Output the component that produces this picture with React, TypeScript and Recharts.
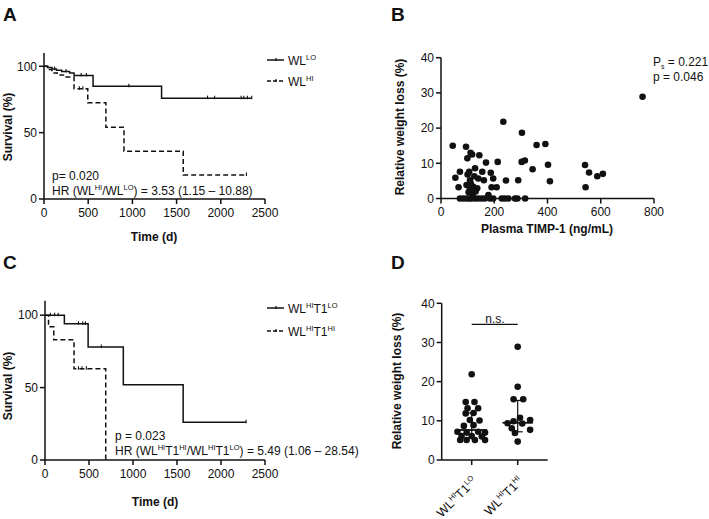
import React from "react";
import {
  LineChart,
  Line,
  XAxis,
  YAxis,
  ScatterChart,
  Scatter,
  ReferenceLine,
} from "recharts";

const FONT = '"Liberation Sans", Arial, Helvetica, sans-serif';
const INK = "#111";

// survival curves: [time (d), survival (%), censored 1/0]
const wlLo = [
  [0, 100, 0], [40, 99, 0], [90, 98, 0], [120, 98, 1], [140, 97, 0], [200, 96, 0],
  [250, 96, 1], [290, 95, 0], [340, 93, 0], [420, 93, 1], [480, 93, 1], [555, 85, 0],
  [960, 85, 1], [1330, 76, 0], [1850, 76, 1], [1930, 76, 1], [2230, 76, 1],
  [2260, 76, 1], [2300, 76, 1], [2350, 76, 1],
];
const wlHi = [
  [0, 100, 0], [40, 97.5, 0], [90, 95, 0], [150, 93.5, 0], [220, 92, 0], [340, 83, 0],
  [400, 83, 1], [440, 83, 1], [495, 72.5, 0], [700, 54, 0], [905, 36, 0], [1575, 18, 0],
  [2290, 18, 1],
];
const t1Lo = [
  [0, 100, 0], [60, 100, 1], [110, 100, 1], [150, 100, 1], [220, 94, 0], [380, 94, 1],
  [430, 94, 1], [460, 94, 1], [490, 78, 0], [640, 78, 1], [890, 52, 0], [1570, 26, 0],
  [2285, 26, 1],
];
const t1Hi = [
  [0, 100, 0], [40, 92, 0], [100, 83, 0], [330, 63, 0], [380, 63, 1], [420, 63, 1],
  [470, 63, 1], [690, 0, 0],
];
const timeTicks = [0, 500, 1000, 1500, 2000, 2500];
const survTicks = [0, 50, 100];

// panel B: plasma TIMP-1 (ng/mL) vs relative weight loss (%)
const timpWl = [
  [44, 15], [94, 14.7], [111, 13], [99, 11.4], [117, 12.5], [144, 12.3], [234, 21.8],
  [304, 18.7], [359, 15.2], [392, 15.5], [169, 10.2], [213, 10.4], [303, 10.4],
  [315, 10.8], [344, 8.3], [402, 9.6], [409, 4.9], [71, 7.6], [54, 5.9], [66, 3.2],
  [106, 7.6], [128, 8.6], [155, 7.6], [187, 7.3], [140, 5.7], [161, 5.2], [196, 5.7],
  [244, 5.1], [290, 5.2], [109, 5.2], [96, 3.8], [121, 3.3], [136, 2.9], [109, 2.5],
  [209, 3.2], [190, 3.2], [178, 1.0], [118, 1.0], [112, 4.2], [125, 6.3], [104, 1.8],
  [130, 2.0], [100, 6.8], [541, 9.5], [556, 7.4], [587, 6.3], [608, 7.0], [543, 3.2],
  [757, 28.9],
  [71, 0], [84, 0], [96, 0], [106, 0], [115, 0], [128, 0], [140, 0], [153, 0], [165, 0],
  [184, 0], [196, 0], [228, 0], [240, 0], [253, 0], [278, 0], [287, 0], [316, 0],
];
const timpTicks = [0, 200, 400, 600, 800];
const wlTicks = [0, 10, 20, 30, 40];

// panel D: weight loss per group, [group, jitter, value]
const groupPts = [
  [0, 0, 21.9], [0, -0.13, 14.8], [0, 0.06, 14.8], [0, -0.09, 13.2], [0, 0.14, 13.2],
  [0, -0.13, 11.9], [0, 0.04, 12.0], [0, -0.04, 10.2], [0, 0.17, 10.1], [0, -0.17, 8.7],
  [0, 0.04, 8.9], [0, -0.31, 7.2], [0, -0.11, 7.0], [0, 0.14, 7.2], [0, 0.29, 7.0],
  [0, -0.22, 6.1], [0, 0, 6.1], [0, 0.22, 6.0], [0, -0.25, 5.1], [0, -0.11, 5.1],
  [0, 0.07, 5.1], [0, 0.29, 5.1],
  [1, 0, 28.9], [1, 0, 18.7], [1, -0.09, 15.5], [1, 0.12, 15.5], [1, 0.05, 10.8],
  [1, -0.09, 9.9], [1, 0.27, 10.2], [1, -0.22, 9.4], [1, 0.1, 9.3], [1, -0.13, 8.1],
  [1, 0.27, 7.7], [1, -0.06, 6.9], [1, 0, 4.7],
];
const groupMedian = [7.65, 9.5];
const groupQ1 = [5.5, 7.2];
const groupQ3 = [12.0, 15.2];
const nsHeight = 34.6;

const toSurv = (rows: number[][]) => rows.map(([t, s, c]) => ({ t, s, c }));

const axisProps = {
  stroke: INK,
  strokeWidth: 1.5,
  tickSize: 5,
  tick: { fill: INK, fontSize: 12, fontFamily: FONT },
  tickLine: { stroke: INK, strokeWidth: 1.5 },
};

const censor = (props: any) => {
  const { cx, cy, payload, index } = props;
  if (!payload?.c) return <g key={`c-${index}`} />;
  return <line key={`c-${index}`} x1={cx} x2={cx} y1={cy - 2.5} y2={cy + 1} stroke={INK} strokeWidth={1.1} />;
};

const dotShape = (props: any) => <circle cx={props.cx} cy={props.cy} r={3.3} fill={INK} />;

const Sup = ({ children }: any) => (
  <span style={{ fontSize: 7.5, position: "relative", top: -5 }}>{children}</span>
);

const At = ({ x, y, anchor = "start", rotate = false, bold = false, size = 12, children }: any) => {
  const tx = anchor === "start" ? "0" : anchor === "middle" ? "-50%" : "-100%";
  return (
    <div
      style={{
        position: "absolute",
        left: x,
        top: y,
        transform: rotate ? "translate(-50%,-50%) rotate(-90deg)" : `translate(${tx},-50%)`,
        whiteSpace: "nowrap",
        lineHeight: 1,
        fontFamily: FONT,
        fontSize: size,
        fontWeight: bold ? 700 : 400,
        color: INK,
      }}
    >
      {children}
    </div>
  );
};

const Swatch = ({ dashed }: { dashed?: boolean }) => (
  <svg width={17} height={8} style={{ position: "absolute", left: -21, top: 0 }}>
    <line x1={0} x2={17} y1={4} y2={4} stroke={INK} strokeWidth={1.5} strokeDasharray={dashed ? "4 2" : undefined} />
    <line x1={9} x2={9} y1={2} y2={5} stroke={INK} strokeWidth={1.2} />
  </svg>
);

const GroupTick = (props: any) => {
  const { x, y, payload } = props;
  const hi = payload.value === 1;
  return (
    <g transform={`translate(${x + 6},${y + 15}) rotate(-45)`}>
      <text textAnchor="end" fontFamily={FONT} fontSize={12.5} fill={INK}>
        WL<tspan fontSize={7.5} dy={-5}>HI</tspan>
        <tspan dy={5}>T1</tspan>
        <tspan fontSize={7.5} dy={-5}>{hi ? "HI" : "LO"}</tspan>
      </text>
    </g>
  );
};

function Survival({ a, b, top }: any) {
  return (
    <LineChart width={360} height={top.h} margin={{ top: top.m, right: 95, bottom: top.b, left: 0 }}>
      <XAxis
        type="number"
        dataKey="t"
        domain={[0, 2500]}
        ticks={timeTicks}
        tickMargin={4}
        height={30}
        {...axisProps}
      />
      <YAxis type="number" dataKey="s" domain={[0, 110]} ticks={survTicks} width={top.w} {...axisProps} />
      <Line data={toSurv(a)} dataKey="s" type="stepAfter" stroke={INK} strokeWidth={1.5} dot={censor} isAnimationActive={false} />
      <Line data={toSurv(b)} dataKey="s" type="stepAfter" stroke={INK} strokeWidth={1.5} strokeDasharray="5 3" dot={censor} isAnimationActive={false} />
    </LineChart>
  );
}

export default function App() {
  const bData = timpWl.map(([x, y]) => ({ x, y }));
  const dData = groupPts.map(([g, j, v]) => ({ x: g + j, y: v }));
  return (
    <div style={{ position: "absolute", left: 0, top: 0, width: 709, height: 519, background: "#fff", overflow: "hidden" }}>
      {/* A */}
      <div style={{ position: "absolute", left: 0, top: 0 }}>
        <Survival a={wlLo} b={wlHi} top={{ h: 260, m: 53, b: 31, w: 44 }} />
      </div>
      <At x={3} y={14} bold size={19}>A</At>
      <At x={8} y={127} rotate bold>Survival (%)</At>
      <At x={154} y={237} anchor="middle" bold>Time (d)</At>
      <div style={{ position: "absolute", left: 288, top: 56 }}>
        <Swatch />
        <At x={0} y={5}>WL<Sup>LO</Sup></At>
      </div>
      <div style={{ position: "absolute", left: 288, top: 77 }}>
        <Swatch dashed />
        <At x={0} y={5}>WL<Sup>HI</Sup></At>
      </div>
      <At x={52} y={176}>p= 0.020</At>
      <At x={52} y={191}>HR (WL<Sup>HI</Sup>/WL<Sup>LO</Sup>) = 3.53 (1.15 – 10.88)</At>

      {/* B */}
      <div style={{ position: "absolute", left: 360, top: 0 }}>
        <ScatterChart width={349} height={260} margin={{ top: 57.7, right: 55, bottom: 31.5, left: 0 }}>
          <XAxis type="number" dataKey="x" domain={[0, 800]} ticks={timpTicks} tickMargin={4} height={30} {...axisProps} />
          <YAxis type="number" dataKey="y" domain={[0, 40]} ticks={wlTicks} width={81} {...axisProps} />
          <Scatter data={bData} shape={dotShape} isAnimationActive={false} />
        </ScatterChart>
      </div>
      <At x={391} y={14} bold size={19}>B</At>
      <At x={400} y={127} rotate bold>Relative weight loss (%)</At>
      <At x={547} y={229} anchor="middle" bold>Plasma TIMP-1 (ng/mL)</At>
      <At x={653} y={62}>P<span style={{ fontSize: 7, position: "relative", top: 3 }}>s</span> = 0.221</At>
      <At x={653} y={77}>p = 0.046</At>

      {/* C */}
      <div style={{ position: "absolute", left: 0, top: 260 }}>
        <Survival a={t1Lo} b={t1Hi} top={{ h: 259, m: 40.7, b: 29, w: 45 }} />
      </div>
      <At x={3} y={262} bold size={19}>C</At>
      <At x={8} y={386} rotate bold>Survival (%)</At>
      <At x={155} y={502} anchor="middle" bold>Time (d)</At>
      <div style={{ position: "absolute", left: 288, top: 304 }}>
        <Swatch />
        <At x={0} y={5}>WL<Sup>HI</Sup>T1<Sup>LO</Sup></At>
      </div>
      <div style={{ position: "absolute", left: 288, top: 327 }}>
        <Swatch dashed />
        <At x={0} y={5}>WL<Sup>HI</Sup>T1<Sup>HI</Sup></At>
      </div>
      <At x={115} y={436}>p = 0.023</At>
      <At x={115} y={451}>HR (WL<Sup>HI</Sup>T1<Sup>HI</Sup>/WL<Sup>HI</Sup>T1<Sup>LO</Sup>) = 5.49 (1.06 – 28.54)</At>

      {/* D */}
      <div style={{ position: "absolute", left: 360, top: 260 }}>
        <ScatterChart width={349} height={259} margin={{ top: 43.3, right: 161.3, bottom: 0, left: 0 }}>
          <XAxis type="number" dataKey="x" domain={[-0.652, 1.652]} ticks={[0, 1]} tick={<GroupTick />} height={59} stroke={INK} strokeWidth={1.5} tickSize={5} tickLine={{ stroke: INK, strokeWidth: 1.5 }} />
          <YAxis type="number" dataKey="y" domain={[0, 40]} ticks={wlTicks} width={81.7} {...axisProps} />
          {[0, 1].map((g) => (
            <React.Fragment key={g}>
              <ReferenceLine segment={[{ x: g - 0.33, y: groupMedian[g] }, { x: g + 0.33, y: groupMedian[g] }]} stroke={INK} strokeWidth={1.8} />
              <ReferenceLine segment={[{ x: g, y: groupQ1[g] }, { x: g, y: groupQ3[g] }]} stroke={INK} strokeWidth={1.2} />
              <ReferenceLine segment={[{ x: g - 0.11, y: groupQ1[g] }, { x: g + 0.11, y: groupQ1[g] }]} stroke={INK} strokeWidth={1.2} />
              <ReferenceLine segment={[{ x: g - 0.11, y: groupQ3[g] }, { x: g + 0.11, y: groupQ3[g] }]} stroke={INK} strokeWidth={1.2} />
            </React.Fragment>
          ))}
          <ReferenceLine segment={[{ x: 0, y: nsHeight }, { x: 1, y: nsHeight }]} stroke={INK} strokeWidth={1.2} />
          <Scatter data={dData} shape={dotShape} isAnimationActive={false} />
        </ScatterChart>
      </div>
      <At x={391} y={262} bold size={19}>D</At>
      <At x={397} y={381} rotate bold>Relative weight loss (%)</At>
      <At x={495} y={319} anchor="middle">n.s.</At>
    </div>
  );
}
